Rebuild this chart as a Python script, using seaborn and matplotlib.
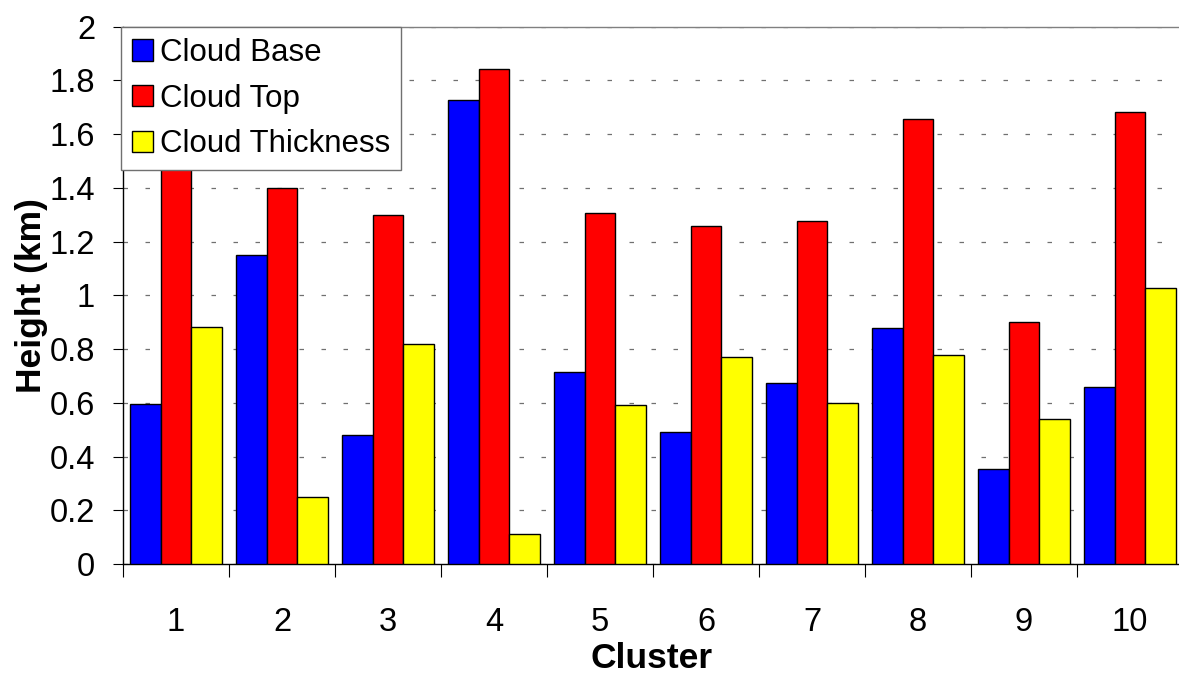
import matplotlib
matplotlib.use("Agg")
import matplotlib.pyplot as plt
import numpy as np
import pandas as pd
import seaborn as sns

# Cloud statistics per cluster (km)
clusters = ["1", "2", "3", "4", "5", "6", "7", "8", "9", "10"]
cloud_base = [0.597, 1.152, 0.482, 1.729, 0.716, 0.492, 0.675, 0.877, 0.355, 0.660]
cloud_top = [1.480, 1.398, 1.298, 1.842, 1.307, 1.260, 1.276, 1.658, 0.900, 1.684]
cloud_thickness = [0.882, 0.250, 0.818, 0.112, 0.592, 0.769, 0.600, 0.778, 0.541, 1.029]

series_names = ["Cloud Base", "Cloud Top", "Cloud Thickness"]
series_colors = ["#0000FF", "#FF0000", "#FFFF00"]
y_ticks = [0, 0.2, 0.4, 0.6, 0.8, 1.0, 1.2, 1.4, 1.6, 1.8, 2.0]

df = pd.DataFrame({
    "Cluster": clusters * 3,
    "Height": cloud_base + cloud_top + cloud_thickness,
    "Series": [s for s in series_names for _ in clusters],
})

sns.set_theme(style="white")
plt.rcParams["font.family"] = ["Liberation Sans", "DejaVu Sans"]
plt.rcParams["text.color"] = "black"
plt.rcParams["axes.labelcolor"] = "black"
plt.rcParams["xtick.color"] = "black"
plt.rcParams["ytick.color"] = "black"

W, H = 1179, 675
fig = plt.figure(figsize=(W / 100, H / 100), dpi=100)
ax = fig.add_axes([123 / W, 111 / H, 1060 / W, 537.3 / H])

sns.barplot(
    data=df, x="Cluster", y="Height", hue="Series",
    order=clusters, hue_order=series_names, palette=series_colors,
    width=0.87, saturation=1, edgecolor="black", linewidth=1.0,
    ax=ax, zorder=3,
)

ax.set_xlim(-0.5, len(clusters) - 0.5)
ax.set_ylim(0, 2)

# y axis
ax.set_yticks(y_ticks)
ax.set_yticklabels([f"{v:g}" for v in y_ticks])
ax.tick_params(axis="y", which="major", direction="out", length=7, width=0.8,
               color="black", labelcolor="black", pad=13, labelsize=23.5, left=True)

# x axis: labels at cluster centres, ticks at cluster boundaries
ax.set_xticks(range(len(clusters)))
ax.set_xticklabels(clusters)
ax.set_xticks(np.arange(-0.5, len(clusters), 1.0), minor=True)
ax.tick_params(axis="x", which="major", length=0, pad=31, labelsize=23.5,
               labelcolor="black")
ax.tick_params(axis="x", which="minor", direction="out", length=9, width=0.8,
               color="black", bottom=True)

ax.set_axisbelow(True)
ax.yaxis.grid(True, linestyle=(0, (3.6, 14)), color="#707070", linewidth=0.9)
ax.xaxis.grid(False)

for side in ("left", "bottom"):
    ax.spines[side].set_color("black")
    ax.spines[side].set_linewidth(1.0)
ax.spines["top"].set_color("#808080")
ax.spines["top"].set_linewidth(1.0)
ax.spines["right"].set_visible(False)

ax.set_xlabel("Cluster", fontsize=25.5, fontweight="bold", color="black")
ax.set_ylabel("Height (km)", fontsize=25.5, fontweight="bold", color="black")
ax.xaxis.set_label_coords(0.499, -0.146)
ax.yaxis.set_label_coords(-0.071, 0.5)

handles, labels = ax.get_legend_handles_labels()
leg = ax.legend(
    handles, labels, loc="upper left", bbox_to_anchor=(-0.002, 1.0),
    borderaxespad=0, frameon=True, fancybox=False, edgecolor="#707070",
    framealpha=1, fontsize=22.5, handlelength=0.67, handleheight=0.67,
    handletextpad=0.22, labelspacing=0.5, borderpad=0.36,
)
leg.get_frame().set_linewidth(1.0)
for t in leg.get_texts():
    t.set_color("black")
leg.set_zorder(10)

fig.savefig("out.png", dpi=100)
